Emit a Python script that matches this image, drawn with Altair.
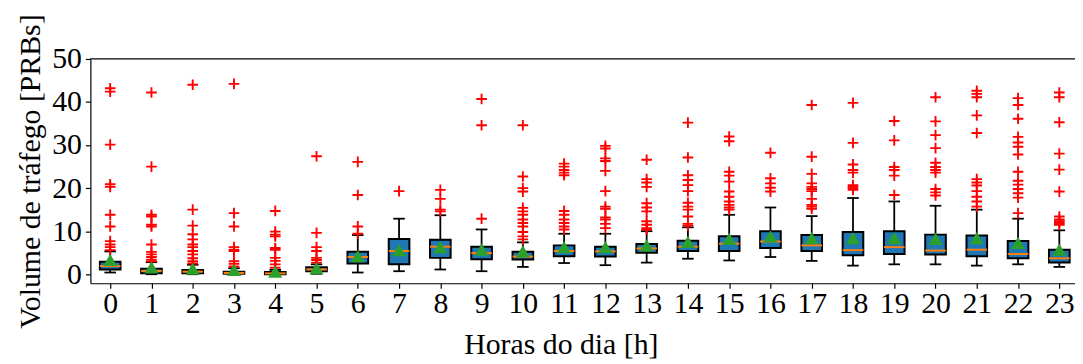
import altair as alt
import pandas as pd

hours = list(range(24))
q1 = [1.1, 0.2, 0.2, 0.1, 0.0, 0.7, 2.5, 2.3, 3.8, 3.5, 3.4, 4.2,
      4.1, 5.0, 5.4, 5.4, 6.1, 5.4, 4.4, 4.7, 4.6, 4.2, 3.7, 2.7]
med = [1.9, 0.75, 0.6, 0.3, 0.2, 1.1, 4.0, 5.4, 6.4, 4.9, 4.1, 5.4,
       5.3, 6.0, 6.4, 7.1, 7.6, 6.7, 5.6, 6.3, 5.5, 5.7, 4.7, 3.7]
q3 = [2.9, 1.3, 1.0, 0.6, 0.5, 1.6, 5.2, 8.2, 8.0, 6.4, 5.2, 6.7,
      6.4, 7.0, 7.8, 8.8, 10.0, 9.1, 9.8, 10.0, 9.2, 9.0, 7.7, 5.7]
wlo = [0.4, 0.0, 0.0, 0.0, 0.0, 0.1, 0.4, 0.7, 1.1, 0.7, 1.7, 2.6,
       2.1, 2.7, 3.6, 3.2, 4.0, 3.1, 2.0, 2.3, 2.3, 2.0, 2.3, 1.7]
whi = [5.3, 2.8, 2.2, 1.4, 1.0, 2.3, 9.1, 12.9, 13.7, 10.4, 7.4, 9.4,
       9.4, 10.0, 10.9, 13.8, 15.5, 13.5, 17.7, 16.9, 15.9, 15.0, 12.9, 10.2]
means = [3.3, 1.6, 1.3, 1.0, 0.6, 1.4, 4.2, 5.6, 6.3, 5.7, 5.3, 6.3,
         6.3, 6.7, 7.5, 8.2, 8.8, 8.4, 8.4, 8.4, 8.2, 8.4, 7.3, 5.7]
outliers = [
    [43.2, 42.4, 30.1, 20.9, 20.3, 13.8, 11.1, 7.7, 6.9, 6.3, 5.6],
    [42.2, 25.0, 13.8, 13.4, 11.5, 11.1, 6.9, 5.2, 4.6, 4.0, 3.4, 3.0],
    [44.0, 15.0, 11.3, 9.3, 8.1, 6.9, 6.3, 5.4, 4.6, 3.7, 3.0, 2.5],
    [44.2, 14.2, 11.1, 6.3, 5.7, 5.4, 3.0, 2.4, 1.8],
    [14.7, 9.9, 9.2, 8.8, 6.1, 5.7, 3.8, 3.1, 2.3, 1.5],
    [27.4, 9.6, 6.3, 5.4, 3.8, 3.3, 2.7],
    [26.1, 18.4, 11.1, 9.4],
    [19.3],
    [19.6, 17.5, 15.0, 14.6],
    [40.7, 34.6, 12.9],
    [34.6, 22.7, 20.0, 19.2, 15.4, 14.6, 13.8, 12.7, 11.9, 11.1, 9.8, 8.8, 8.1],
    [25.7, 25.0, 24.2, 23.6, 23.0, 14.7, 13.8, 12.7, 11.9, 11.1, 10.4],
    [29.8, 29.2, 26.9, 26.3, 24.0, 19.3, 15.7, 15.2, 13.2, 12.7, 11.7, 10.7],
    [26.6, 22.1, 21.3, 20.3, 16.5, 15.5, 14.6, 12.3, 11.5, 10.7, 10.4],
    [35.2, 27.1, 23.0, 21.9, 20.7, 19.3, 16.6, 15.7, 15.0, 13.4, 11.7, 11.3],
    [32.0, 30.9, 23.8, 22.9, 21.5, 19.2, 18.0, 16.9, 16.1, 15.5, 15.0],
    [28.2, 22.3, 21.1, 20.1, 19.2],
    [39.3, 27.3, 23.3, 21.1, 20.3, 19.8, 19.3, 17.5, 16.1, 15.7, 15.2],
    [39.8, 30.5, 25.5, 24.2, 23.6, 20.7, 20.3, 20.0, 19.6],
    [35.6, 31.1, 24.9, 24.2, 22.9, 18.4],
    [41.1, 35.5, 32.3, 29.3, 25.9, 24.9, 24.2, 23.6, 19.8, 19.0, 18.3],
    [42.6, 41.9, 41.1, 36.9, 32.8, 22.1, 21.3, 20.6, 19.3, 18.0, 16.9, 15.7],
    [40.9, 39.3, 36.1, 31.9, 30.6, 29.6, 27.8, 23.8, 21.7, 20.8, 19.8, 18.8, 17.8, 14.2],
    [42.2, 41.1, 35.3, 28.0, 24.3, 19.2, 13.4, 12.7, 12.3, 11.9, 11.5],
]
y_ticks = [0, 10, 20, 30, 40, 50]

FONT = "Liberation Serif"
BOX_HALF = 0.25
CAP_HALF = 0.14

stats = pd.DataFrame({"hour": hours, "q1": q1, "med": med, "q3": q3,
                      "wlo": wlo, "whi": whi, "mean": means})
fl = pd.DataFrame([{"hour": h, "v": v} for h, vals in zip(hours, outliers) for v in vals])

x_scale = alt.Scale(domain=[-0.48, 23.38], nice=False, zero=False)
y_scale = alt.Scale(domain=[-2.1, 50], nice=False, zero=False)

x_axis = alt.Axis(values=hours, title="Horas do dia [h]", format="d",
                  labelPadding=0, titlePadding=12, titleX=474)
y_axis = alt.Axis(values=y_ticks, title="Volume de tráfego [PRBs]", format="d",
                  labelPadding=4, titlePadding=6)


def X(field):
    return alt.X(field, scale=x_scale, axis=x_axis)


def Y(field):
    return alt.Y(field, scale=y_scale, axis=y_axis)


base = alt.Chart(stats).transform_calculate(
    xl=f"datum.hour - {BOX_HALF}", xr=f"datum.hour + {BOX_HALF}",
    cl=f"datum.hour - {CAP_HALF}", cr=f"datum.hour + {CAP_HALF}")

whisk = base.mark_rule(color="black", strokeWidth=1.8).encode(
    x=X("hour:Q"), y=Y("wlo:Q"), y2="whi:Q")
cap_lo = base.mark_rule(color="black", strokeWidth=1.8).encode(
    x=X("cl:Q"), x2="cr:Q", y=Y("wlo:Q"))
cap_hi = base.mark_rule(color="black", strokeWidth=1.8).encode(
    x=X("cl:Q"), x2="cr:Q", y=Y("whi:Q"))
box = base.mark_rect(fill="#1f77b4", stroke="black", strokeWidth=2).encode(
    x=X("xl:Q"), x2="xr:Q", y=Y("q1:Q"), y2="q3:Q")
median = base.mark_rule(color="#ff7f0e", strokeWidth=2).encode(
    x=X("xl:Q"), x2="xr:Q", y=Y("med:Q"))
fliers = alt.Chart(fl).mark_point(
    shape="M-1,0L1,0M0,-1L0,1", filled=False, stroke="#ff0000",
    strokeWidth=1.9, size=115, opacity=1).encode(
    x=X("hour:Q"), y=Y("v:Q"))
mean_pts = base.mark_point(shape="triangle-up", filled=True, color="#2ca02c",
                           size=200, opacity=1).encode(
    x=X("hour:Q"), y=Y("mean:Q"))
top = alt.Chart(pd.DataFrame({"t": [max(y_ticks)]})).mark_rule(
    color="black", strokeWidth=1.2).encode(y=Y("t:Q"))

chart = alt.layer(whisk, cap_lo, cap_hi, box, median, fliers, mean_pts, top).properties(
    width=992, height=226,
    autosize=alt.AutoSizeParams(type="none"),
    padding={"left": 83, "top": 50, "right": 0, "bottom": 80},
).configure_view(stroke=None).configure_axis(
    grid=False, domainColor="black", domainWidth=1.2, tickColor="black",
    tickWidth=1.2, tickSize=5, labelFont=FONT, labelFontSize=30, labelColor="black",
    titleFont=FONT, titleFontSize=30, titleFontWeight="normal", titleColor="black",
)

chart.save("out.html", embed_options={"renderer": "svg", "actions": False})
